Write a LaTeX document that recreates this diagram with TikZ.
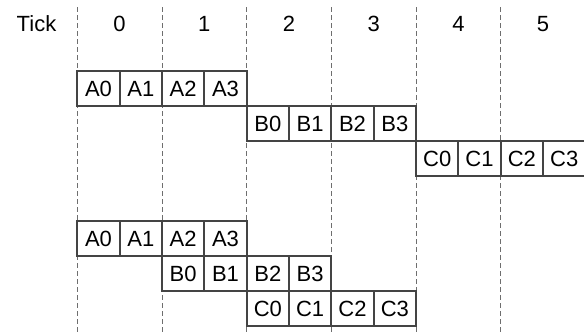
\documentclass[tikz,border=0pt]{standalone}
\usepackage{fontspec}
\setmainfont{Liberation Sans}
\usetikzlibrary{positioning}
\definecolor{cellstroke}{RGB}{68,68,68}
\definecolor{tickgray}{RGB}{110,110,110}

\begin{document}
\begin{tikzpicture}[
  x=0.5pt, y=-0.5pt,
  font=\fontsize{11}{13}\selectfont,
  cell/.style={
    draw=cellstroke,
    line width=1pt,
    fill=white,
    minimum width=21.17pt,
    minimum height=17.5pt,
    inner sep=0pt,
    outer sep=0pt
  },
  ticklabel/.style={anchor=base, inner sep=0pt},
  tickline/.style={draw=tickgray, line width=0.5pt, dash pattern=on 2.5pt off 1.5pt}
]
\useasboundingbox (0,0) rectangle (584,332);

% column boundaries
\coordinate (top0) at (77.3,7);   \coordinate (bot0) at (77.3,332);
\coordinate (top1) at (162,7);    \coordinate (bot1) at (162,332);
\coordinate (top2) at (246.7,7);  \coordinate (bot2) at (246.7,332);
\coordinate (top3) at (331.4,7);  \coordinate (bot3) at (331.4,332);
\coordinate (top4) at (416.1,7);  \coordinate (bot4) at (416.1,332);
\coordinate (top5) at (500.8,7);  \coordinate (bot5) at (500.8,332);

\draw[tickline] (top0) -- (bot0);
\draw[tickline] (top1) -- (bot1);
\draw[tickline] (top2) -- (bot2);
\draw[tickline] (top3) -- (bot3);
\draw[tickline] (top4) -- (bot4);
\draw[tickline] (top5) -- (bot5);

% tick labels
\node[ticklabel] (tick) at (36.5,31.7) {Tick};
\node[ticklabel] (t0) at (119.6,31.7) {0};
\node[ticklabel] (t1) at (204.3,31.7) {1};
\node[ticklabel] (t2) at (289,31.7) {2};
\node[ticklabel] (t3) at (373.7,31.7) {3};
\node[ticklabel] (t4) at (458.4,31.7) {4};
\node[ticklabel] (t5) at (543.1,31.7) {5};

% one after the other
\node[cell, anchor=north west] (sa0) at (77.3,71) {A0};
\node[cell, right=0pt of sa0] (sa1) {A1};
\node[cell, right=0pt of sa1] (sa2) {A2};
\node[cell, right=0pt of sa2] (sa3) {A3};

\node[cell, anchor=north west] (sb0) at (sa3.south east) {B0};
\node[cell, right=0pt of sb0] (sb1) {B1};
\node[cell, right=0pt of sb1] (sb2) {B2};
\node[cell, right=0pt of sb2] (sb3) {B3};

\node[cell, anchor=north west] (sc0) at (sb3.south east) {C0};
\node[cell, right=0pt of sc0] (sc1) {C1};
\node[cell, right=0pt of sc1] (sc2) {C2};
\node[cell, right=0pt of sc2] (sc3) {C3};

% overlapped
\node[cell, anchor=north west] (pa0) at (77.3,221) {A0};
\node[cell, right=0pt of pa0] (pa1) {A1};
\node[cell, right=0pt of pa1] (pa2) {A2};
\node[cell, right=0pt of pa2] (pa3) {A3};

\node[cell, anchor=north west] (pb0) at (pa1.south east) {B0};
\node[cell, right=0pt of pb0] (pb1) {B1};
\node[cell, right=0pt of pb1] (pb2) {B2};
\node[cell, right=0pt of pb2] (pb3) {B3};

\node[cell, anchor=north west] (pc0) at (pb1.south east) {C0};
\node[cell, right=0pt of pc0] (pc1) {C1};
\node[cell, right=0pt of pc1] (pc2) {C2};
\node[cell, right=0pt of pc2] (pc3) {C3};

\end{tikzpicture}
\end{document}
